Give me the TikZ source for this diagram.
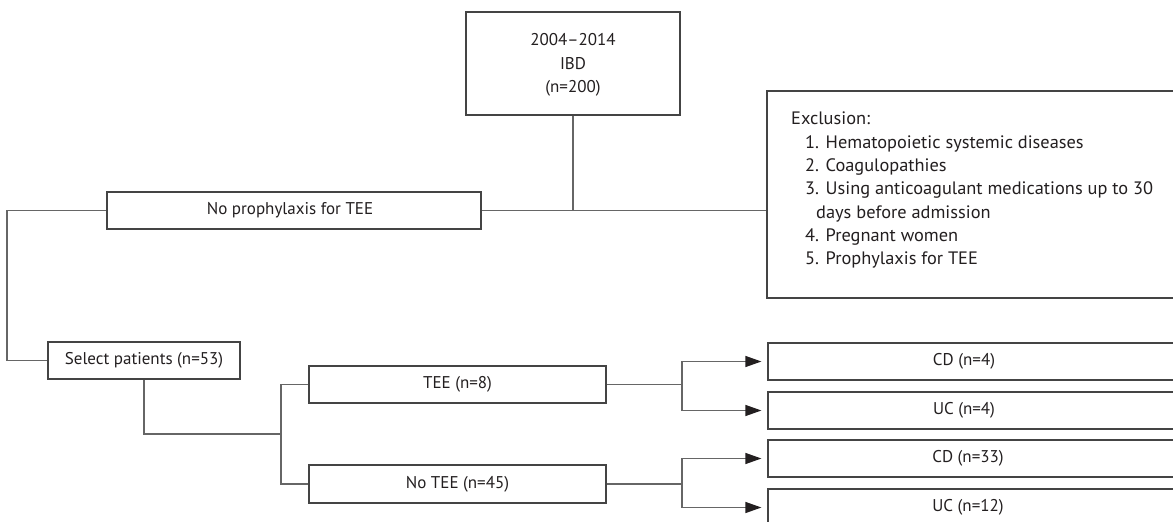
\documentclass[tikz,border=0pt]{standalone}
\usepackage{fontspec}
\setmainfont{PT Sans}
\newfontfamily\exclfont[FakeStretch=1.02]{PT Sans}
\usetikzlibrary{arrows.meta}
\definecolor{txt}{HTML}{231F20}
\definecolor{boxc}{HTML}{444444}
\definecolor{linec}{HTML}{666666}
\tikzset{
  box/.style={draw=boxc, line width=1.2pt, inner sep=0pt, text=txt},
  lbl/.style={text=txt, inner sep=0pt, font=\fontsize{17}{23.3}\selectfont},
  conn/.style={draw=linec, line width=1.2pt},
  arr/.style={conn, shorten >=6pt, arrows={-{Triangle[length=16pt,width=11pt,color=txt]}}}
}
\begin{document}
\begin{tikzpicture}[x=1pt,y=-1pt]
\useasboundingbox (0,0) rectangle (1173,522);
\clip (0,0) rectangle (1173,522);
\fill[white] (0,0) rectangle (1173,522);
% boxes
\node[box, minimum width=214pt, minimum height=103pt] (top) at (573,63.5) {};
\node[lbl, align=center] (toptext) at (573,65) {2004--2014\\IBD\\(n=200)};
\node[box, minimum width=374pt, minimum height=37pt] (noproph) at (294,210.5) {};
\node[lbl] (nopropht) at (290,210.5) {No prophylaxis for TEE};
\node[box, minimum width=423pt, minimum height=207pt] (excl) at (978.5,194.5) {};
\node[lbl, align=left, anchor=north west, font=\exclfont\fontsize{18}{23.3}\selectfont] (excltext) at (791,112) {Exclusion:\\
\hspace*{14pt}1. Hematopoietic systemic diseases\\
\hspace*{14pt}2. Coagulopathies\\
\hspace*{14pt}3. Using anticoagulant medications up to 30\\
\hspace*{25pt}days before admission\\
\hspace*{14pt}4. Pregnant women\\
\hspace*{14pt}5. Prophylaxis for TEE};
\node[box, minimum width=192pt, minimum height=37pt] (select) at (144,360.5) {};
\node[lbl] (selectt) at (144,360.5) {Select patients (n=53)};
\node[box, minimum width=297pt, minimum height=37pt] (tee) at (457.5,384.5) {};
\node[lbl] (teet) at (457.5,384.5) {TEE (n=8)};
\node[box, minimum width=297pt, minimum height=38pt] (notee) at (457.5,484) {};
\node[lbl] (noteet) at (457.5,484) {No TEE (n=45)};
\node[box, minimum width=422pt, minimum height=37pt] (cdA) at (979,361.5) {};
\node[lbl] (cdAt) at (964,361.5) {CD (n=4)};
\node[box, minimum width=422pt, minimum height=37pt] (ucA) at (979,410.5) {};
\node[lbl] (ucAt) at (964,410.5) {UC (n=4)};
\node[box, minimum width=422pt, minimum height=37pt] (cdB) at (979,458.5) {};
\node[lbl] (cdBt) at (968,458.5) {CD (n=33)};
\node[box, minimum width=422pt, minimum height=37pt] (ucB) at (979,507.5) {};
\node[lbl] (ucBt) at (968,507.5) {UC (n=12)};
% coordinates
\coordinate (lft) at (7,0);
\coordinate (jn) at (281,434);
\coordinate (sA) at (682,384.5);
\coordinate (sB) at (682,484);
% connectors
\draw[conn] (noproph.east) -- (noproph.east -| excl.west);
\draw[conn] (top.south) -- (top.south |- noproph.east);
\draw[conn] (noproph.west) -- (noproph.west -| lft) |- (select.west);
\draw[conn] (select.south) |- (jn);
\draw[conn] (tee.west) -| (jn) |- (notee.west);
\draw[conn] (tee.east) -- (sA);
\draw[conn] (notee.east) -- (sB);
\draw[arr] (sA) |- (cdA.west);
\draw[arr] (sA) |- (ucA.west);
\draw[arr] (sB) |- (cdB.west);
\draw[arr] (sB) |- (ucB.west);
\end{tikzpicture}
\end{document}
